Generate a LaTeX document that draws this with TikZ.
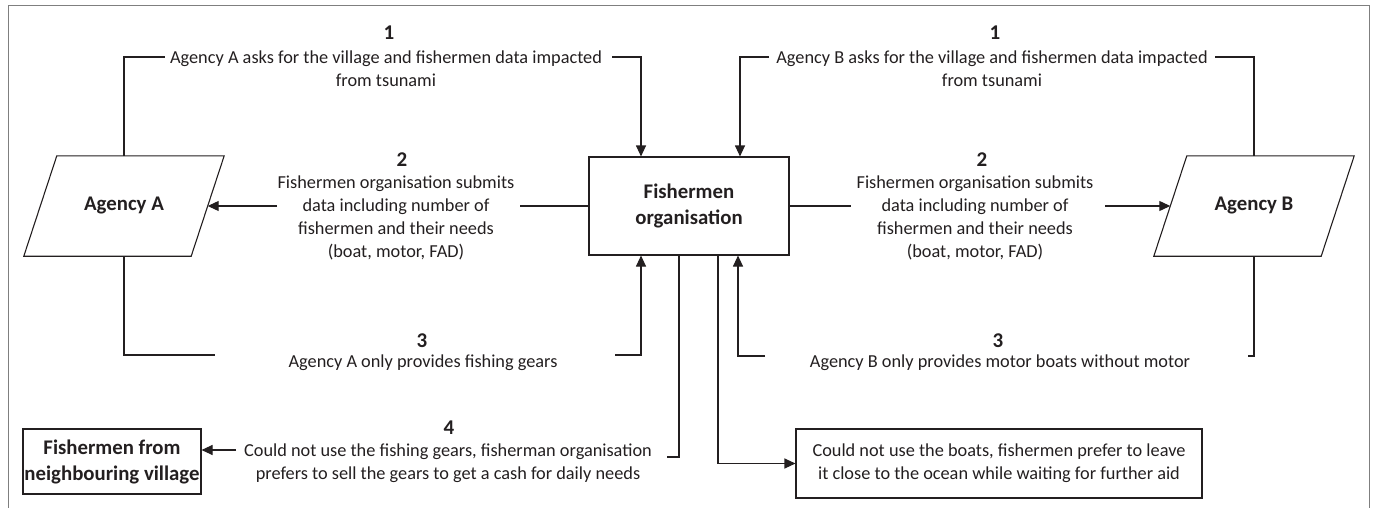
\documentclass[tikz,border=0pt]{standalone}
\usepackage{fontspec}
\setmainfont{Carlito}
\usetikzlibrary{arrows.meta}
\definecolor{dk}{HTML}{231F20}
\definecolor{fr}{HTML}{7F7F7F}
\tikzset{
  ln/.style={draw=dk, line width=1.1pt},
  arr/.style={ln, -{Triangle[length=11pt,width=10pt]}},
  txt/.style={align=center, text=dk, inner sep=0pt, font=\fontsize{18.3}{23}\selectfont},
  num/.style={text=dk, inner sep=0pt, font=\fontsize{21}{24}\selectfont\bfseries},
  bx/.style={draw=dk, line width=1.1pt, align=center, text=dk, inner sep=0pt, font=\fontsize{20.8}{26}\selectfont\bfseries},
  wbx/.style={draw=dk, line width=1.1pt, align=center, text=dk, inner sep=0pt, font=\fontsize{18.3}{23}\selectfont},
  pbox/.style={align=center, text=dk, inner sep=0pt, minimum width=167pt, minimum height=100pt, font=\fontsize{20.8}{26}\selectfont\bfseries},
}
\begin{document}
\begin{tikzpicture}[x=1pt,y=-1pt]
\useasboundingbox (0,0) rectangle (1375,508);
% frame
\draw[fr, line width=1pt] (8,508) -- (8,6) -- (1369,6) -- (1369,508);

% main shapes
\node[pbox] (agA) at (124,206) {Agency A};
\draw[ln, line join=miter] ([xshift=16.5pt]agA.north west) -- ([xshift=16.5pt]agA.north east) -- ([xshift=-16.5pt]agA.south east) -- ([xshift=-16.5pt]agA.south west) -- cycle;
\node[pbox] (agB) at (1254,206) {Agency B};
\draw[ln, line join=miter] ([xshift=16.5pt]agB.north west) -- ([xshift=16.5pt]agB.north east) -- ([xshift=-16.5pt]agB.south east) -- ([xshift=-16.5pt]agB.south west) -- cycle;
\node[bx, minimum width=200pt, minimum height=98pt] (fo) at (689,206) {Fishermen\\organisation};
\node[bx, minimum width=178pt, minimum height=65pt] (fn) at (112,461.5) {Fishermen from\\neighbouring village};
\node[wbx, minimum width=406pt, minimum height=69pt] (fb) at (999,463.5) {Could not use the boats, fishermen prefer to leave\\it close to the ocean while waiting for further aid};

% labels
\node[num] (n1a) at (389,33) {1};
\node[txt] (t1a) at (386,69) {Agency A asks for the village and fishermen data impacted\\from tsunami};
\node[num] (n1b) at (995,33) {1};
\node[txt] (t1b) at (992,69) {Agency B asks for the village and fishermen data impacted\\from tsunami};
\node[num] (n2a) at (402,160) {2};
\node[txt] (t2a) at (396,218) {Fishermen organisation submits\\data including number of\\fishermen and their needs\\(boat, motor, FAD)};
\node[num] (n2b) at (982,160) {2};
\node[txt] (t2b) at (975,218) {Fishermen organisation submits\\data including number of\\fishermen and their needs\\(boat, motor, FAD)};
\node[num] (n3a) at (422,341) {3};
\node[txt] (t3a) at (423,363) {Agency A only provides fishing gears};
\node[num] (n3b) at (998,341) {3};
\node[txt] (t3b) at (1000,363) {Agency B only provides motor boats without motor};
\node[num] (n4) at (449,428) {4};
\node[txt] (t4) at (448,463) {Could not use the fishing gears, fisherman organisation\\prefers to sell the gears to get a cash for daily needs};

% connector free ends
\coordinate (c1a1) at (165,57);
\coordinate (c1a2) at (612,57);
\coordinate (c1b1) at (769,57);
\coordinate (c1b2) at (1215,57);
\coordinate (c2a1) at (520,206);
\coordinate (c2a2) at (277,206);
\coordinate (c2b1) at (851,206);
\coordinate (c2b2) at (1105,206);
\coordinate (c3a1) at (215,355);
\coordinate (c3a2) at (615,355);
\coordinate (c3b1) at (765,356);
\coordinate (c3b2) at (1248,356);
\coordinate (c4a1) at (667,457);
\coordinate (c4a2) at (236,450);

% connectors
\draw[ln] (agA.north) |- (c1a1);
\draw[arr] (c1a2) -| ([xshift=-48pt]fo.north);
\draw[arr] (c1b1) -| ([xshift=51pt]fo.north);
\draw[ln] (c1b2) -| (agB.north);
\draw[ln] (fo.west) -- (c2a1 |- fo.west);
\draw[arr] (c2a2) -- (agA.east);
\draw[ln] (fo.east) -- (c2b1 |- fo.east);
\draw[arr] (c2b2) -- (agB.west);
\draw[ln] (agA.south) |- (c3a1);
\draw[arr] (c3a2) -| ([xshift=-48pt]fo.south);
\draw[arr] (c3b1) -| ([xshift=49pt]fo.south);
\draw[ln] (c3b2) -| (agB.south);
\draw[ln] ([xshift=-10pt]fo.south) |- (c4a1);
\draw[arr] (c4a2) -- (fn.east |- c4a2);
\draw[arr] ([xshift=29pt]fo.south) |- (fb.west);
\end{tikzpicture}
\end{document}
